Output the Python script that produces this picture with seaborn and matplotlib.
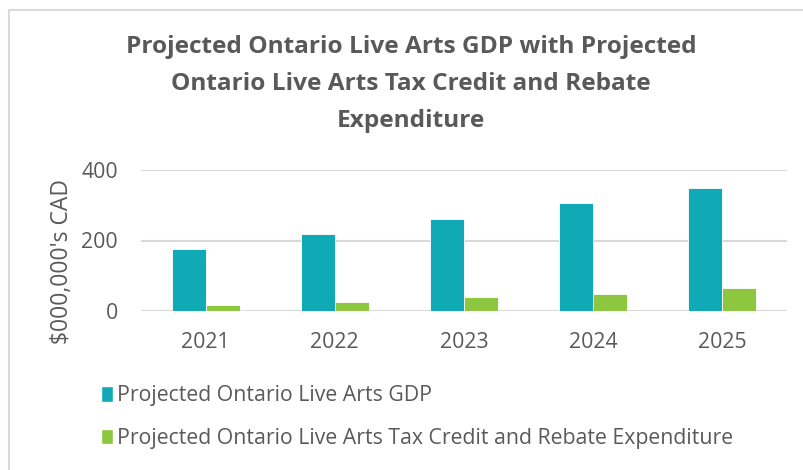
import matplotlib
matplotlib.use("Agg")
import matplotlib.pyplot as plt
from matplotlib.patches import Rectangle, Patch
import seaborn as sns
import pandas as pd

# Projection data ($000,000's CAD)
years = ["2021", "2022", "2023", "2024", "2025"]
gdp = [175, 218, 261, 305, 348]
tax_credit = [17, 26, 39, 48, 64]
series_names = [
    "Projected Ontario Live Arts GDP",
    "Projected Ontario Live Arts Tax Credit and Rebate Expenditure",
]
title_lines = [
    "Projected Ontario Live Arts GDP with Projected",
    "Ontario Live Arts Tax Credit and Rebate",
    "Expenditure",
]
y_ticks = [0, 200, 400]

df = pd.DataFrame({
    "Year": years * 2,
    "Value": gdp + tax_credit,
    "Series": [series_names[0]] * len(years) + [series_names[1]] * len(years),
})

sns.set_theme(style="white")
plt.rcParams["font.family"] = ["Open Sans", "DejaVu Sans"]

TEXT = "#595959"
TEAL = "#0FAAB5"
GREEN = "#8DC63F"
W, H = 804, 470

fig = plt.figure(figsize=(W / 100, H / 100), dpi=100)
ax = fig.add_axes([141 / W, (H - 311) / H, (787 - 141) / W, (311 - 170) / H])

sns.barplot(
    data=df, x="Year", y="Value", hue="Series",
    palette=[TEAL, GREEN], width=0.526, ax=ax,
    edgecolor="white", linewidth=0.6, saturation=1, legend=False,
)

ax.set_ylim(0, 400)
ax.set_yticks(y_ticks)
ax.grid(axis="y", color="#d9d9d9", linewidth=1.5)
ax.set_axisbelow(True)
for s in ax.spines.values():
    s.set_visible(False)
ax.tick_params(axis="both", length=0, colors=TEXT, labelsize=15.3)
ax.tick_params(axis="x", pad=15)
ax.tick_params(axis="y", pad=16.5)
ax.set_xlabel("")
ax.set_ylabel("")

# Axis title
fig.text(62 / W, 1 - 261 / H, "$000,000's CAD", rotation=90,
         ha="center", va="center", fontsize=16.5, color=TEXT)

# Title, one centred line at a time
for i, line in enumerate(title_lines):
    fig.text(411 / W, 1 - (47 + 37 * i) / H, line, ha="center", va="center",
             fontsize=17.6, fontweight="bold", color=TEXT)

# Legend below the plot
handles = [Patch(facecolor=TEAL), Patch(facecolor=GREEN)]
leg = fig.legend(
    handles, series_names, loc="upper left",
    bbox_to_anchor=(93 / W, 1 - 377 / H), frameon=False,
    fontsize=15.3, handlelength=0.55, handleheight=0.75, handletextpad=0.2,
    labelspacing=1.0, borderaxespad=0,
)
for t in leg.get_texts():
    t.set_color(TEXT)

# Chart frame
fig.patches.append(Rectangle((8.5 / W, -0.1), 1.2, 1 - 9.5 / H + 0.1,
                             transform=fig.transFigure, fill=False,
                             edgecolor="#d9d9d9", linewidth=1.5))

fig.savefig("out.png", dpi=100)
